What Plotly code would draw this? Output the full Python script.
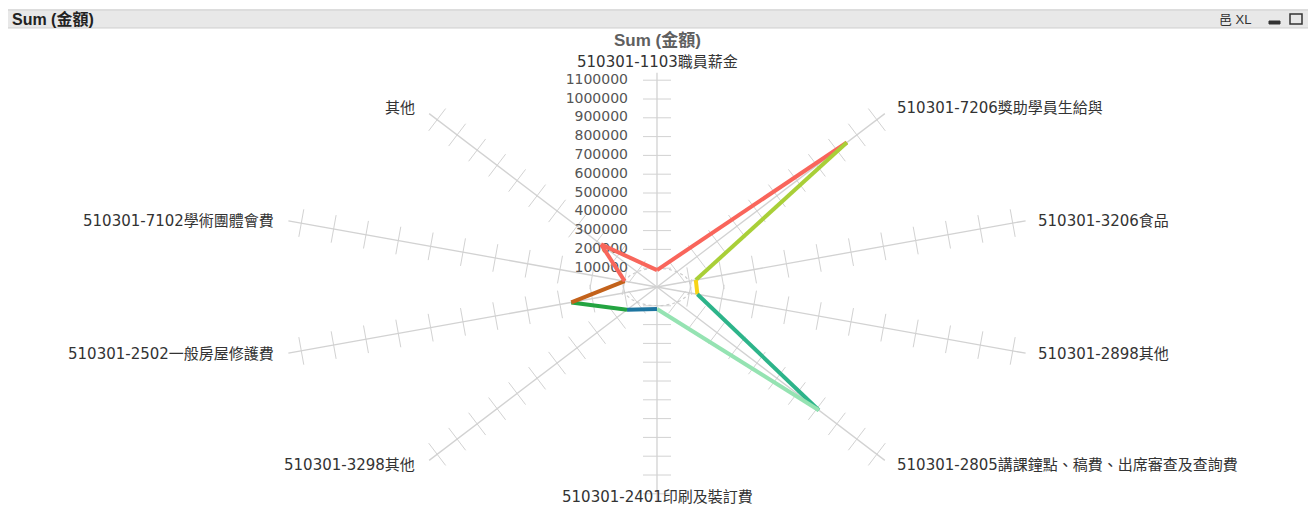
import numpy as np
import plotly.graph_objects as go

# ---------------- data ----------------
categories = [
    "510301-1103職員薪金",
    "510301-7206獎助學員生給與",
    "510301-3206食品",
    "510301-2898其他",
    "510301-2805講課鐘點、稿費、出席審查及查詢費",
    "510301-2401印刷及裝訂費",
    "510301-3298其他",
    "510301-2502一般房屋修護費",
    "510301-7102學術團體會費",
    "其他",
]
values = [90000, 950000, 120000, 125000, 810000, 117000, 150000, 265000, 100000, 280000]
segment_colors = [
    "#f9655b", "#a9cf38", "#f7d417", "#2db48a", "#95e3b2",
    "#1d75a0", "#23a441", "#c3621b", "#f8665b", "#f8665b",
]
tick_values = [100000 * i for i in range(1, 12)]
tick_labels = [str(v) for v in tick_values]
chart_title = "Sum (金額)"
axis_max = 1140000

# ---------------- geometry ----------------
# page body has an 8px margin: the figure is drawn 8px in from the top-left corner
OFF = 8
W, H = 1316 - 2 * OFF, 513 - 2 * OFF
CX, CY = 657 - OFF, 287 - OFF   # centre in figure pixels
SX = 34.0 / 1e5                 # px per unit, horizontal
SY = 18.8 / 1e5                 # px per unit, vertical
N = len(categories)
theta = [2 * np.pi * i / N for i in range(N)]

xr = [-CX / SX, (W - CX) / SX]
yr = [-(H - CY) / SY, CY / SY]

FONT = "DejaVu Sans, Noto Sans CJK TC, sans-serif"


def px(x):   # reference-image pixel x -> paper
    return (x - OFF) / W


def py(y):   # reference-image pixel y -> paper
    return 1 - (y - OFF) / H


def pt(v, th):
    return v * np.sin(th), v * np.cos(th)


fig = go.Figure()

# spokes
sx_, sy_ = [], []
for th in theta:
    x1, y1 = pt(axis_max, th)
    sx_ += [0, x1, None]
    sy_ += [0, y1, None]
fig.add_trace(go.Scatter(x=sx_, y=sy_, mode="lines",
                         line=dict(color="#d2d2d2", width=1.3), hoverinfo="skip"))

# perpendicular tick marks
half = 14
tx_, ty_ = [], []
for th in theta:
    dxp, dyp = np.sin(th) * SX, np.cos(th) * SY
    n = np.hypot(dxp, dyp)
    dxp, dyp = dxp / n, dyp / n
    ppx, ppy = -dyp, dxp
    for t in tick_values:
        bx, by = pt(t, th)
        tx_ += [bx - half * ppx / SX, bx + half * ppx / SX, None]
        ty_ += [by - half * ppy / SY, by + half * ppy / SY, None]
fig.add_trace(go.Scatter(x=tx_, y=ty_, mode="lines",
                         line=dict(color="#d2d2d2", width=1), hoverinfo="skip"))

# inner dotted ring at first tick
phi = np.linspace(0, 2 * np.pi, 121)
fig.add_trace(go.Scatter(x=tick_values[0] * np.sin(phi), y=tick_values[0] * np.cos(phi),
                         mode="lines", line=dict(color="#cccccc", width=1.2, dash="dot"),
                         hoverinfo="skip"))

# value tick labels along top spoke (under the lines)
fig.add_trace(go.Scatter(x=[-29 / SX] * len(tick_values), y=tick_values, mode="text",
                         text=tick_labels, textposition="middle left",
                         textfont=dict(family=FONT, size=14, color="#555555"),
                         hoverinfo="skip"))

# data segments, each in its own colour
for i in range(N):
    j = (i + 1) % N
    x0, y0 = pt(values[i], theta[i])
    x1, y1 = pt(values[j], theta[j])
    fig.add_trace(go.Scatter(x=[x0, x1], y=[y0, y1], mode="lines",
                             line=dict(color=segment_colors[i], width=4),
                             hovertemplate=f"{categories[i]}: {values[i]}<extra></extra>"))

# category labels
annotations = []
for cat, th in zip(categories, theta):
    x1, y1 = pt(axis_max, th)
    s = np.sin(th)
    c = np.cos(th)
    fnt = dict(family=FONT, size=15, color="#333333")
    if abs(s) < 0.1:
        if c > 0:
            annotations.append(dict(x=x1, y=y1, text=cat, showarrow=False,
                                    xanchor="center", yanchor="bottom", yshift=0, font=fnt))
        else:
            # bottom label: keep it inside the page
            annotations.append(dict(x=x1, y=0, yref="paper", text=cat, showarrow=False,
                                    xanchor="center", yanchor="bottom", yshift=-3, font=fnt))
    else:
        annotations.append(dict(x=x1, y=y1, text=cat, showarrow=False,
                                xanchor="left" if s > 0 else "right",
                                yanchor="middle",
                                xshift=10 if s > 0 else -12,
                                yshift=-(5 if c < -0.5 else (1 if c < 0 else 0)) + (6 if c > 0.5 else 0),
                                font=fnt))

# chart title & header texts
annotations.append(dict(x=px(657), y=py(40), xref="paper", yref="paper", text="<b>" + chart_title + "</b>",
                        showarrow=False, xanchor="center", yanchor="middle",
                        font=dict(family="Liberation Sans, Noto Sans CJK TC", size=17, color="#5f5f5f")))
annotations.append(dict(x=px(10), y=py(19), xref="paper", yref="paper", text="<b>" + chart_title + "</b>",
                        showarrow=False, xanchor="left", yanchor="middle",
                        font=dict(family="Liberation Sans, Noto Sans CJK TC", size=16, color="#222222")))
annotations.append(dict(x=px(1217), y=py(19), xref="paper", yref="paper", text="邑 XL",
                        showarrow=False, xanchor="left", yanchor="middle",
                        font=dict(family="Liberation Sans, Noto Sans CJK TC", size=13, color="#333333")))

shapes = [
    # frame border
    dict(type="rect", xref="paper", yref="paper", x0=px(6), x1=px(1310), y0=-0.01, y1=py(10),
         line=dict(color="#d6d6d6", width=1), fillcolor="rgba(0,0,0,0)", layer="below"),
    # header bar
    dict(type="rect", xref="paper", yref="paper", x0=px(6), x1=px(1310), y0=py(28), y1=py(10),
         line=dict(color="#cfcfcf", width=1), fillcolor="#e8e8e8", layer="below"),
    # minimize icon
    dict(type="rect", xref="paper", yref="paper", x0=px(1269), x1=px(1280), y0=py(24), y1=py(21),
         line=dict(color="#333333", width=1), fillcolor="#333333"),
    # maximize icon
    dict(type="rect", xref="paper", yref="paper", x0=px(1290), x1=px(1302), y0=py(24), y1=py(14),
         line=dict(color="#333333", width=1.5), fillcolor="rgba(0,0,0,0)"),
]

fig.update_layout(
    width=W, height=H, margin=dict(l=0, r=0, t=0, b=0),
    paper_bgcolor="white", plot_bgcolor="white", showlegend=False,
    xaxis=dict(range=xr, visible=False, fixedrange=True, domain=[0, 1]),
    yaxis=dict(range=yr, visible=False, fixedrange=True, domain=[0, 1]),
    annotations=annotations, shapes=shapes,
)

fig.write_html("out.html")
